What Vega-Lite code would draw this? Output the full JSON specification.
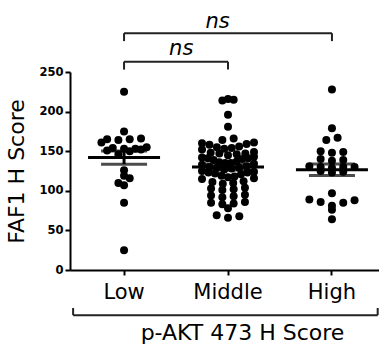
{
  "$schema": "https://vega.github.io/schema/vega-lite/v6.json",
  "width": 316,
  "height": 198,
  "autosize": {"type": "none"},
  "padding": {"left": 70, "top": 72, "right": -7, "bottom": 74},
  "background": "white",
  "config": {
    "font": "DejaVu Sans",
    "view": {"stroke": null},
    "axis": {"grid": false, "domainColor": "black", "tickColor": "black", "labelColor": "black", "titleColor": "black", "domainWidth": 2, "tickWidth": 2, "tickSize": 5},
    "axisY": {"labelOverlap": false, "labelFontSize": 11.5, "labelFontWeight": "bold", "labelPadding": 2, "titleFontSize": 22, "titleFontWeight": "normal", "titlePadding": 10},
    "axisX": {"labelAngle": 0, "labelFontSize": 21, "labelPadding": 6, "titleFontSize": 22, "titleFontWeight": "normal", "titlePadding": 20, "titleX": 172}
  },
  "datasets": {
    "scores": [
      {"g": "Low", "v": 225}, {"g": "Low", "v": 175}, {"g": "Low", "v": 165}, {"g": "Low", "v": 166}, {"g": "Low", "v": 164}, {"g": "Low", "v": 165},
      {"g": "Low", "v": 161}, {"g": "Low", "v": 155}, {"g": "Low", "v": 154}, {"g": "Low", "v": 153}, {"g": "Low", "v": 153}, {"g": "Low", "v": 152},
      {"g": "Low", "v": 150}, {"g": "Low", "v": 151}, {"g": "Low", "v": 146}, {"g": "Low", "v": 126}, {"g": "Low", "v": 119}, {"g": "Low", "v": 116},
      {"g": "Low", "v": 110}, {"g": "Low", "v": 107}, {"g": "Low", "v": 85}, {"g": "Low", "v": 25},
      {"g": "Middle", "v": 215}, {"g": "Middle", "v": 214}, {"g": "Middle", "v": 216}, {"g": "Middle", "v": 196}, {"g": "Middle", "v": 181},
      {"g": "Middle", "v": 166}, {"g": "Middle", "v": 164}, {"g": "Middle", "v": 161}, {"g": "Middle", "v": 159}, {"g": "Middle", "v": 160}, {"g": "Middle", "v": 158},
      {"g": "Middle", "v": 155}, {"g": "Middle", "v": 153}, {"g": "Middle", "v": 154}, {"g": "Middle", "v": 152}, {"g": "Middle", "v": 156},
      {"g": "Middle", "v": 148}, {"g": "Middle", "v": 146}, {"g": "Middle", "v": 147}, {"g": "Middle", "v": 149}, {"g": "Middle", "v": 145}, {"g": "Middle", "v": 147},
      {"g": "Middle", "v": 142}, {"g": "Middle", "v": 140}, {"g": "Middle", "v": 141}, {"g": "Middle", "v": 143}, {"g": "Middle", "v": 139}, {"g": "Middle", "v": 141},
      {"g": "Middle", "v": 136}, {"g": "Middle", "v": 134}, {"g": "Middle", "v": 135}, {"g": "Middle", "v": 137}, {"g": "Middle", "v": 133}, {"g": "Middle", "v": 135},
      {"g": "Middle", "v": 130}, {"g": "Middle", "v": 128}, {"g": "Middle", "v": 129}, {"g": "Middle", "v": 131}, {"g": "Middle", "v": 127}, {"g": "Middle", "v": 129},
      {"g": "Middle", "v": 124}, {"g": "Middle", "v": 122}, {"g": "Middle", "v": 123}, {"g": "Middle", "v": 125}, {"g": "Middle", "v": 121}, {"g": "Middle", "v": 123},
      {"g": "Middle", "v": 118}, {"g": "Middle", "v": 116}, {"g": "Middle", "v": 117}, {"g": "Middle", "v": 119}, {"g": "Middle", "v": 115},
      {"g": "Middle", "v": 111}, {"g": "Middle", "v": 109}, {"g": "Middle", "v": 110}, {"g": "Middle", "v": 112},
      {"g": "Middle", "v": 103}, {"g": "Middle", "v": 101}, {"g": "Middle", "v": 102}, {"g": "Middle", "v": 104},
      {"g": "Middle", "v": 95}, {"g": "Middle", "v": 93}, {"g": "Middle", "v": 94}, {"g": "Middle", "v": 92},
      {"g": "Middle", "v": 85}, {"g": "Middle", "v": 83}, {"g": "Middle", "v": 84}, {"g": "Middle", "v": 86},
      {"g": "Middle", "v": 78}, {"g": "Middle", "v": 68}, {"g": "Middle", "v": 66}, {"g": "Middle", "v": 69},
      {"g": "High", "v": 228}, {"g": "High", "v": 179}, {"g": "High", "v": 167}, {"g": "High", "v": 164}, {"g": "High", "v": 150}, {"g": "High", "v": 149},
      {"g": "High", "v": 148}, {"g": "High", "v": 140}, {"g": "High", "v": 139}, {"g": "High", "v": 138}, {"g": "High", "v": 130}, {"g": "High", "v": 131},
      {"g": "High", "v": 129}, {"g": "High", "v": 130}, {"g": "High", "v": 130}, {"g": "High", "v": 124}, {"g": "High", "v": 123}, {"g": "High", "v": 125},
      {"g": "High", "v": 97}, {"g": "High", "v": 89}, {"g": "High", "v": 88}, {"g": "High", "v": 86}, {"g": "High", "v": 85}, {"g": "High", "v": 81},
      {"g": "High", "v": 76}, {"g": "High", "v": 64}
    ],
    "brackets": [
      {"from": "Low", "to": "High", "level": 299, "tip": 289},
      {"from": "Low", "to": "Middle", "level": 263, "tip": 253}
    ]
  },
  "encoding": {
    "y": {"type": "quantitative", "title": "FAF1 H Score",
      "scale": {"domain": [0, 250], "nice": false},
      "axis": {"values": [0, 50, 100, 150, 200, 250], "labelOverlap": false}}
  },
  "layer": [
    {
      "data": {"name": "scores"},
      "transform": [
        {"bin": {"step": 9}, "field": "v", "as": "vb"},
        {"window": [{"op": "row_number", "as": "idx"}, {"op": "count", "as": "cnt"}], "groupby": ["g", "vb"], "frame": [null, null], "sort": [{"field": "v"}]},
        {"calculate": "((datum.idx - 1) % 2 == 1 ? datum.idx / 2 : -(datum.idx - 1) / 2) - (datum.cnt % 2 == 0 ? 0.5 : 0)", "as": "slot"},
        {"calculate": "datum.slot * min(1, 4.6 / max(datum.cnt - 1, 1))", "as": "off"}
      ],
      "mark": {"type": "circle", "size": 64, "color": "black", "opacity": 1},
      "encoding": {
        "x": {"field": "g", "type": "nominal", "title": "p-AKT 473 H Score",
          "scale": {"type": "band", "domain": ["Low", "Middle", "High"], "paddingInner": 0, "paddingOuter": 0.02}},
        "xOffset": {"field": "off", "type": "quantitative", "scale": {"domain": [-4.6, 4.6]}},
        "y": {"field": "v", "type": "quantitative", "title": "FAF1 H Score", "axis": {"values": [0, 50, 100, 150, 200, 250], "labelOverlap": false}}
      }
    },
    {
      "data": {"name": "scores"},
      "mark": {"type": "tick", "size": 72, "thickness": 3, "color": "black"},
      "encoding": {
        "x": {"field": "g", "type": "nominal", "title": "p-AKT 473 H Score"},
        "y": {"aggregate": "mean", "field": "v", "type": "quantitative", "title": "FAF1 H Score", "axis": {"values": [0, 50, 100, 150, 200, 250], "labelOverlap": false}}
      }
    },
    {
      "data": {"name": "scores"},
      "mark": {"type": "errorbar", "extent": "stderr", "color": "black", "ticks": {"size": 46, "thickness": 3, "color": "black"}, "rule": {"strokeWidth": 3, "color": "black"}},
      "encoding": {
        "x": {"field": "g", "type": "nominal", "title": "p-AKT 473 H Score"},
        "y": {"field": "v", "type": "quantitative", "title": "FAF1 H Score", "axis": {"values": [0, 50, 100, 150, 200, 250], "labelOverlap": false}}
      }
    },
    {
      "data": {"name": "brackets"},
      "mark": {"type": "rule", "color": "#222", "strokeWidth": 2},
      "encoding": {
        "x": {"field": "from", "type": "nominal", "bandPosition": 0.5, "title": "p-AKT 473 H Score"},
        "x2": {"field": "to", "bandPosition": 0.5},
        "y": {"field": "level", "type": "quantitative", "title": "FAF1 H Score", "axis": {"values": [0, 50, 100, 150, 200, 250], "labelOverlap": false}}
      }
    },
    {
      "data": {"name": "brackets"},
      "mark": {"type": "rule", "color": "#222", "strokeWidth": 2},
      "encoding": {
        "x": {"field": "from", "type": "nominal", "bandPosition": 0.5, "title": "p-AKT 473 H Score"},
        "y": {"field": "level", "type": "quantitative", "title": "FAF1 H Score", "axis": {"values": [0, 50, 100, 150, 200, 250], "labelOverlap": false}},
        "y2": {"field": "tip"}
      }
    },
    {
      "data": {"name": "brackets"},
      "mark": {"type": "rule", "color": "#222", "strokeWidth": 2},
      "encoding": {
        "x": {"field": "to", "type": "nominal", "bandPosition": 0.5, "title": "p-AKT 473 H Score"},
        "y": {"field": "level", "type": "quantitative", "title": "FAF1 H Score", "axis": {"values": [0, 50, 100, 150, 200, 250], "labelOverlap": false}},
        "y2": {"field": "tip"}
      }
    },
    {
      "data": {"values": [{"at": "Middle", "label": "ns", "level": 305}]},
      "mark": {"type": "text", "fontStyle": "italic", "fontSize": 21, "color": "black", "baseline": "alphabetic", "align": "center"},
      "encoding": {
        "x": {"field": "at", "type": "nominal", "bandPosition": 0.4, "title": "p-AKT 473 H Score"},
        "y": {"field": "level", "type": "quantitative", "title": "FAF1 H Score", "axis": {"values": [0, 50, 100, 150, 200, 250], "labelOverlap": false}},
        "text": {"field": "label"}
      }
    },
    {
      "data": {"values": [{"at": "Low", "label": "ns", "level": 271}]},
      "mark": {"type": "text", "fontStyle": "italic", "fontSize": 21, "color": "black", "baseline": "alphabetic", "align": "center"},
      "encoding": {
        "x": {"field": "at", "type": "nominal", "bandPosition": 1.05, "title": "p-AKT 473 H Score"},
        "y": {"field": "level", "type": "quantitative", "title": "FAF1 H Score", "axis": {"values": [0, 50, 100, 150, 200, 250], "labelOverlap": false}},
        "text": {"field": "label"}
      }
    },
    {
      "data": {"values": [{"from": "Low", "to": "High", "level": -57, "tip": -48}]},
      "mark": {"type": "rule", "color": "#222", "strokeWidth": 2},
      "encoding": {
        "x": {"field": "from", "type": "nominal", "bandPosition": 0.01, "title": "p-AKT 473 H Score"},
        "x2": {"field": "to", "bandPosition": 0.94},
        "y": {"field": "level", "type": "quantitative", "title": "FAF1 H Score", "axis": {"values": [0, 50, 100, 150, 200, 250], "labelOverlap": false}}
      }
    },
    {
      "data": {"values": [{"from": "Low", "to": "High", "level": -57, "tip": -48}]},
      "mark": {"type": "rule", "color": "#222", "strokeWidth": 2},
      "encoding": {
        "x": {"field": "from", "type": "nominal", "bandPosition": 0.01, "title": "p-AKT 473 H Score"},
        "y": {"field": "level", "type": "quantitative", "title": "FAF1 H Score", "axis": {"values": [0, 50, 100, 150, 200, 250], "labelOverlap": false}},
        "y2": {"field": "tip"}
      }
    },
    {
      "data": {"values": [{"from": "Low", "to": "High", "level": -57, "tip": -48}]},
      "mark": {"type": "rule", "color": "#222", "strokeWidth": 2},
      "encoding": {
        "x": {"field": "to", "type": "nominal", "bandPosition": 0.94, "title": "p-AKT 473 H Score"},
        "y": {"field": "level", "type": "quantitative", "title": "FAF1 H Score", "axis": {"values": [0, 50, 100, 150, 200, 250], "labelOverlap": false}},
        "y2": {"field": "tip"}
      }
    }
  ]
}
